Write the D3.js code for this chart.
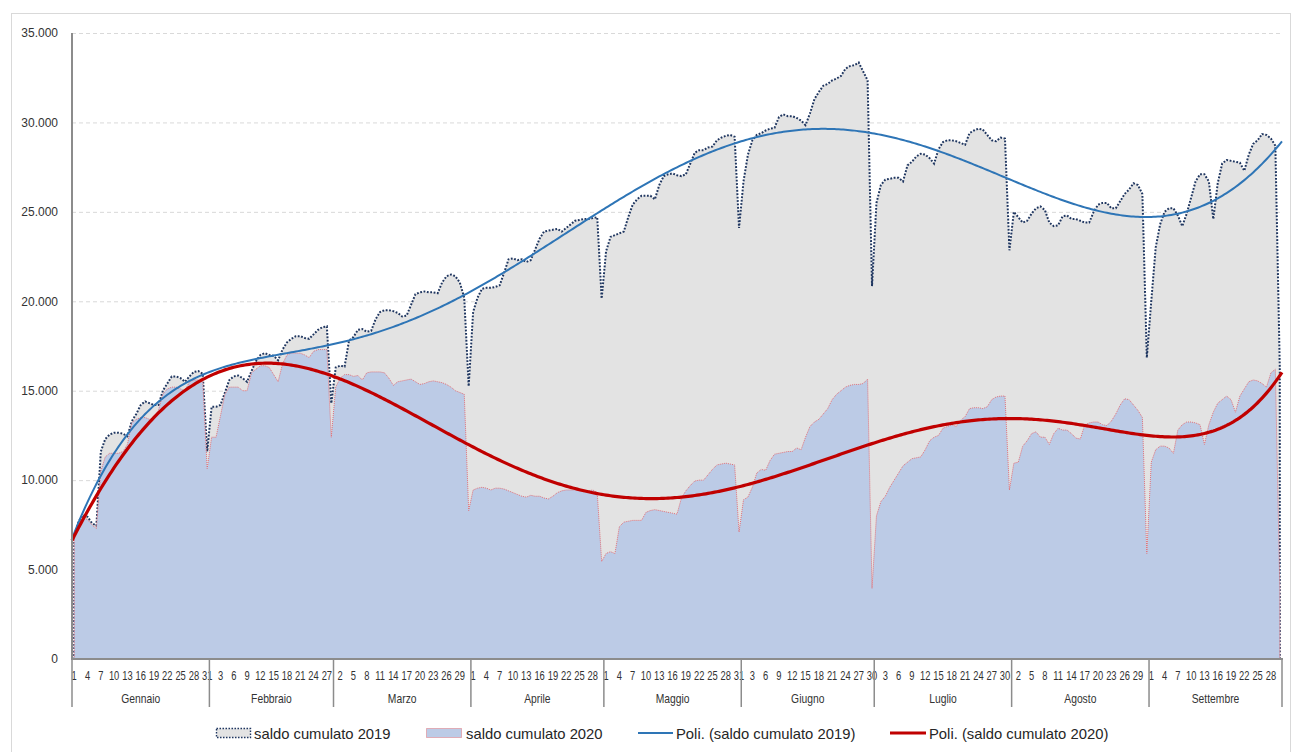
<!DOCTYPE html>
<html>
<head>
<meta charset="utf-8">
<script src="https://cdn.jsdelivr.net/npm/d3@7"></script>
<style>
body { margin: 0; background: #fff; }
#saldo_plot { width: 1293px; height: 752px; }
text { font-family: "Liberation Sans", Arial, sans-serif; }
</style>
</head>
<body>
<div id="saldo_plot"></div>
<script>
// categories: one per day, grouped by month
var monthNames = ["Gennaio", "Febbraio", "Marzo", "Aprile", "Maggio", "Giugno", "Luglio", "Agosto", "Settembre"];
var monthDays  = [31, 28, 31, 30, 31, 30, 31, 31, 30];

var yTicks = [0, 5000, 10000, 15000, 20000, 25000, 30000, 35000];

var legendLabels = ["saldo cumulato 2019", "saldo cumulato 2020", "Poli. (saldo cumulato 2019)", "Poli. (saldo cumulato 2020)"];

// saldo cumulato 2019, one value per day (Jan..Sep)
var saldo2019 = [
  6850, 7700, 8050, 7950, 7600, 7450, 11600, 12300, 12550, 12650, 12650, 12600, 12450, 13300, 13700, 14200, 14400, 14300, 14200, 14200, 15000, 15400, 15800, 15800, 15700, 15500, 15800, 16050, 16100, 15950, 11600,
  14100, 14100, 14200, 14900, 15600, 15800, 15850, 15700, 15500, 16100, 16650, 17000, 17100, 17000, 16950, 16700, 17300, 17700, 17900, 18050, 18050, 17950, 17900, 18150, 18400, 18550, 18600, 14300,
  16300, 16400, 16350, 17800, 18000, 18400, 18450, 18300, 18350, 19000, 19400, 19500, 19500, 19450, 19350, 19150, 19200, 19800, 20400, 20500, 20550, 20500, 20500, 20450, 21050, 21400, 21500, 21400, 21050, 20200, 15250,
  19400, 20200, 20700, 20750, 20750, 20800, 20900, 21600, 22350, 22400, 22300, 22350, 22200, 22300, 22900, 23500, 23900, 23950, 24000, 24050, 23900, 24100, 24300, 24500, 24550, 24600, 24600, 24650, 24700, 20150,
  22800, 23600, 23700, 23800, 23900, 24700, 25400, 25700, 25900, 25900, 25900, 25700, 26500, 27000, 27100, 27150, 27050, 27000, 27100, 27700, 28300, 28450, 28450, 28600, 28650, 29000, 29150, 29250, 29300, 29200, 24100,
  26700, 28200, 29000, 29300, 29400, 29550, 29650, 29700, 30300, 30450, 30350, 30350, 30250, 30100, 29850, 30500, 31300, 31700, 32050, 32150, 32350, 32450, 32600, 33000, 33150, 33200, 33350, 32850, 32350, 20850,
  25500, 26500, 26800, 26850, 26900, 26900, 26700, 27600, 27800, 28100, 28250, 28200, 28000, 27700, 28500, 28900, 29000, 29000, 28950, 28850, 28750, 29400, 29550, 29650, 29600, 29300, 29000, 28950, 29150, 29100, 22850,
  25000, 24700, 24400, 24500, 24900, 25200, 25300, 25100, 24400, 24200, 24250, 24750, 24800, 24600, 24600, 24500, 24400, 24400, 25000, 25400, 25500, 25500, 25200, 25200, 25600, 26000, 26250, 26600, 26500, 26000, 16850,
  20000, 23000, 24300, 25000, 25200, 25200, 24800, 24200, 24900, 25800, 26700, 27100, 27100, 26700, 24600, 26600, 27700, 27900, 27850, 27800, 27750, 27300, 28200, 28800, 29000, 29350, 29300, 29100, 28700, 16300
];

// saldo cumulato 2020, one value per day (Jan..Sep)
var saldo2020 = [
  6850, 7500, 7900, 7800, 7500, 7300, 10500, 11300, 11500, 11500, 11500, 11600, 12000, 13200, 13400, 13500, 13500, 13400, 13500, 13900, 14800, 15100, 15200, 15200, 15100, 15000, 15500, 15600, 15600, 15500, 10650,
  12400, 12400, 13600, 14800, 15200, 15200, 15200, 15000, 15000, 16000, 16200, 16400, 16400, 16300, 15900, 15500, 16500, 17000, 17100, 17100, 17100, 17000, 16850, 17200, 17300, 17300, 17300, 12400,
  15200, 15700, 15900, 15900, 15800, 15850, 15600, 16000, 16050, 16050, 16050, 16000, 15700, 15300, 15500, 15550, 15600, 15650, 15500, 15350, 15400, 15500, 15550, 15500, 15450, 15350, 15200, 15000, 14900, 14800, 8300,
  9450, 9550, 9600, 9550, 9450, 9550, 9550, 9500, 9400, 9300, 9200, 9100, 9050, 9150, 9100, 9100, 9000, 8950, 9100, 9300, 9400, 9450, 9450, 9450, 9400, 9350, 9400, 9450, 9300, 5450,
  5900, 6000, 5900, 7400, 7650, 7700, 7750, 7750, 7750, 8200, 8300, 8350, 8300, 8250, 8200, 8150, 8100, 9000, 9400, 9700, 9950, 10000, 10000, 10300, 10600, 10850, 10900, 10950, 10900, 10850, 7100,
  8900, 9050, 9600, 10400, 10600, 10550, 11100, 11450, 11500, 11550, 11600, 11600, 11800, 11700, 12400, 13000, 13250, 13400, 13700, 14000, 14500, 14800, 15000, 15200, 15300, 15350, 15350, 15400, 15650, 3950,
  8000, 8800, 9100, 9600, 10000, 10400, 10800, 11000, 11200, 11250, 11300, 11700, 12200, 12400, 12500, 12900, 13000, 13100, 13000, 13350, 13550, 14000, 14050, 14050, 14000, 14100, 14500, 14650, 14700, 14700, 9450,
  10950, 11000, 11900, 12200, 12600, 12700, 12400, 12400, 12000, 12600, 12900, 12800, 12800, 12600, 12350, 12300, 13100, 13200, 13250, 13250, 13100, 13050, 13300, 13700, 14200, 14550, 14500, 14200, 13900, 13500, 5900,
  11000, 11700, 11900, 11900, 11800, 11500, 12800, 13100, 13250, 13250, 13200, 13100, 12000, 13100, 13800, 14300, 14500, 14700, 14500, 13800, 14700, 15100, 15500, 15600, 15550, 15400, 15200, 16000, 16200, 4000
];


// least squares polynomial, like the excel "Poli." trendline (order 6)
function polyFit(xs, ys, deg){
	var n = xs.length;
	var mid = (xs[0] + xs[n-1]) / 2, half = (xs[n-1] - xs[0]) / 2;
	var m = deg + 1;
	var A = [], b = [];
	for(var r = 0; r < m; r++){ A.push(new Array(m).fill(0)); b.push(0); }
	for(var k = 0; k < n; k++){
		var t = (xs[k] - mid) / half, p = [];
		for(var j = 0; j < m; j++) p.push(Math.pow(t, j));
		for(var r = 0; r < m; r++){
			b[r] += p[r] * ys[k];
			for(var c = 0; c < m; c++) A[r][c] += p[r] * p[c];
		}
	}
	for(var c = 0; c < m; c++){
		var piv = c;
		for(var r = c + 1; r < m; r++) if(Math.abs(A[r][c]) > Math.abs(A[piv][c])) piv = r;
		var tmp = A[c]; A[c] = A[piv]; A[piv] = tmp;
		var tb = b[c]; b[c] = b[piv]; b[piv] = tb;
		for(var r = c + 1; r < m; r++){
			var f = A[r][c] / A[c][c];
			for(var q = c; q < m; q++) A[r][q] -= f * A[c][q];
			b[r] -= f * b[c];
		}
	}
	var coef = new Array(m).fill(0);
	for(var r = m - 1; r >= 0; r--){
		var s = b[r];
		for(var q = r + 1; q < m; q++) s -= A[r][q] * coef[q];
		coef[r] = s / A[r][r];
	}
	return function(x){
		var t = (x - mid) / half, v = 0;
		for(var j = m - 1; j >= 0; j--) v = v * t + coef[j];
		return v;
	};
}


var SaldoPlot = function(options){
	this.opt = { target: "saldo_plot", width: 1293, height: 752 };
	Object.assign(this.opt, options || {});
	this.setupData();
	this.setupSVG();
	this.renderPlot();
};

SaldoPlot.prototype.setupData = function(){
	var self = this;
	this.days = [];
	this.monthStart = [];
	monthDays.forEach(function(nd, m){
		self.monthStart.push(self.days.length);
		for(var d = 1; d <= nd; d++) self.days.push(d);
	});
	this.n = this.days.length;
	console.log("categories", this.n, saldo2019.length, saldo2020.length);
};

SaldoPlot.prototype.setupSVG = function(){
	var plot = { left: 72, right: 1282, top: 33, bottom: 659 };
	this.plot = plot;

	// category centers: index i -> middle of its slot
	this.x = d3.scaleLinear()
		.domain([-0.5, this.n - 0.5])
		.range([plot.left, plot.right]);

	this.y = d3.scaleLinear()
		.domain([0, 35000])
		.range([plot.bottom, plot.top]);

	this.svg = d3.select("#" + this.opt.target).append("svg")
		.attr("width", this.opt.width)
		.attr("height", this.opt.height);

	// outer chart frame
	this.svg.append("rect")
		.attr("x", 11.5).attr("y", 13.5)
		.attr("width", 1279).attr("height", 745)
		.attr("fill", "#fff")
		.attr("stroke", "#d9d9d9");
};

SaldoPlot.prototype.renderPlot = function(){
	var self = this;
	var x = this.x, y = this.y, plot = this.plot;
	var itLocale = d3.formatLocale({ decimal: ",", thousands: ".", grouping: [3], currency: ["€", ""] });
	var fmt = itLocale.format(",d");

	// gridlines
	this.svg.append("g").attr("class", "grid")
		.selectAll("line")
		.data(yTicks.filter(function(v){ return v > 0; }))
		.enter().append("line")
		.attr("x1", plot.left).attr("x2", plot.right)
		.attr("y1", function(d){ return y(d) + 0.5; })
		.attr("y2", function(d){ return y(d) + 0.5; })
		.attr("stroke", "#d9d9d9")
		.attr("stroke-dasharray", "4,3");

	var idx = d3.range(this.n);

	var area = function(values){
		return d3.area()
			.x(function(i){ return x(i); })
			.y0(y(0))
			.y1(function(i){ return y(values[i]); })(idx);
	};

	this.svg.append("path")
		.attr("class", "area2019")
		.attr("d", area(saldo2019))
		.attr("fill", "#e3e3e3")
		.attr("stroke", "#1f3660")
		.attr("stroke-width", 2)
		.attr("stroke-dasharray", "1.8,1.6");

	this.svg.append("path")
		.attr("class", "area2020")
		.attr("d", area(saldo2020))
		.attr("fill", "#bccbe6")
		.attr("stroke", "#e2646c")
		.attr("stroke-width", 0.9)
		.attr("stroke-dasharray", "1,1");

	// polynomial trendlines
	var trend2019 = polyFit(idx, saldo2019, 6);
	var trend2020 = polyFit(idx, saldo2020, 6);
	var tx = d3.range(-0.5, this.n - 0.5 + 0.001, 0.5);
	var line = function(fn){
		return d3.line()
			.x(function(t){ return x(t); })
			.y(function(t){ return y(fn(t)); })(tx);
	};

	this.svg.append("path")
		.attr("d", line(trend2019))
		.attr("fill", "none")
		.attr("stroke", "#2e75b6")
		.attr("stroke-width", 2);

	this.svg.append("path")
		.attr("d", line(trend2020))
		.attr("fill", "none")
		.attr("stroke", "#c00000")
		.attr("stroke-width", 3.2);

	// y axis
	var yAxis = d3.axisLeft(y).tickValues(yTicks).tickSize(0).tickPadding(14).tickFormat(fmt);
	var gy = this.svg.append("g")
		.attr("class", "y axis")
		.attr("transform", "translate(" + plot.left + ",0)")
		.call(yAxis);
	gy.select(".domain").remove();
	gy.selectAll("text")
		.attr("font-size", 12)
		.attr("fill", "#333")
		.attr("font-family", "Liberation Sans, Arial, sans-serif");

	this.svg.append("line")
		.attr("x1", plot.left).attr("x2", plot.left)
		.attr("y1", plot.top).attr("y2", plot.bottom)
		.attr("stroke", "#8c8c8c").attr("stroke-width", 2);

	// x axis: day numbers every third category
	var labelIdx = idx.filter(function(i){ return i % 3 === 0; });
	var gx = this.svg.append("g").attr("class", "x axis");
	gx.selectAll("text.day")
		.data(labelIdx)
		.enter().append("text")
		.attr("class", "day")
		.attr("transform", function(i){ return "translate(" + x(i) + ",680) scale(0.78,1)"; })
		.attr("text-anchor", "middle")
		.attr("font-size", 12)
		.attr("fill", "#333")
		.text(function(i){ return self.days[i]; });

	var bounds = this.monthStart.concat([this.n]);
	gx.selectAll("line.sep")
		.data(bounds)
		.enter().append("line")
		.attr("class", "sep")
		.attr("x1", function(b){ return x(b - 0.5); })
		.attr("x2", function(b){ return x(b - 0.5); })
		.attr("y1", plot.bottom).attr("y2", 707)
		.attr("stroke", "#8c8c8c").attr("stroke-width", 1.5);

	gx.selectAll("text.month")
		.data(monthNames)
		.enter().append("text")
		.attr("class", "month")
		.attr("transform", function(d, m){
			var cx = (x(bounds[m] - 0.5) + x(bounds[m+1] - 0.5)) / 2;
			return "translate(" + cx + ",703) scale(0.86,1)";
		})
		.attr("text-anchor", "middle")
		.attr("font-size", 12)
		.attr("fill", "#333")
		.text(function(d){ return d; });

	this.svg.append("line")
		.attr("x1", plot.left - 1).attr("x2", plot.right + 1)
		.attr("y1", plot.bottom).attr("y2", plot.bottom)
		.attr("stroke", "#8c8c8c").attr("stroke-width", 2);

	this.renderLegend();
};

SaldoPlot.prototype.renderLegend = function(){
	var g = this.svg.append("g").attr("class", "legend");
	var ly = 733;

	g.append("rect").attr("x", 216.5).attr("y", 728.5).attr("width", 34).attr("height", 9)
		.attr("fill", "#e3e3e3").attr("stroke", "#1f3660").attr("stroke-width", 1.4).attr("stroke-dasharray", "1.5,1.5");
	g.append("rect").attr("x", 426.5).attr("y", 728.5).attr("width", 35).attr("height", 9)
		.attr("fill", "#bccbe6").attr("stroke", "#e2646c").attr("stroke-width", 0.9).attr("stroke-dasharray", "1,1");
	g.append("line").attr("x1", 638).attr("x2", 673).attr("y1", ly).attr("y2", ly)
		.attr("stroke", "#2e75b6").attr("stroke-width", 2);
	g.append("line").attr("x1", 890).attr("x2", 926).attr("y1", ly).attr("y2", ly)
		.attr("stroke", "#c00000").attr("stroke-width", 3);

	var tx = [254, 466, 676, 929];
	g.selectAll("text")
		.data(legendLabels)
		.enter().append("text")
		.attr("x", function(d, i){ return tx[i]; })
		.attr("y", 738.5)
		.attr("font-size", 14.8)
		.attr("fill", "#262626")
		.text(function(d){ return d; });
};

new SaldoPlot({ target: "saldo_plot" });
</script>
</body>
</html>
